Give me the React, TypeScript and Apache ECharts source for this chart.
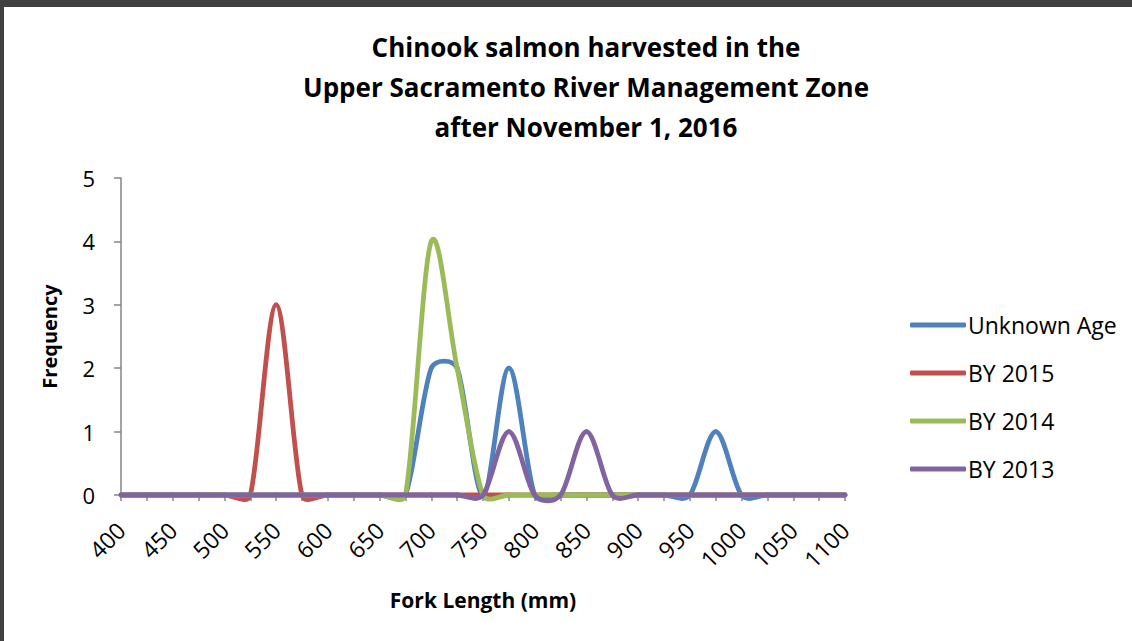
import React, { useEffect, useRef } from "react";
import * as echarts from "echarts";

const categories = [
  "400", "425", "450", "475", "500", "525", "550", "575", "600", "625", "650", "675", "700", "725",
  "750", "775", "800", "825", "850", "875", "900", "925", "950", "975", "1000", "1025", "1050", "1075", "1100",
];
const unknownAge = [0, 0, 0, 0, 0, 0, 0, 0, 0, 0, 0, 0, 2, 2, 0, 2, 0, 0, 0, 0, 0, 0, 0, 1, 0, 0, 0, 0, 0];
const by2015 = [0, 0, 0, 0, 0, 0, 3, 0, 0, 0, 0, 0, 0, 0, 0, 0, 0, 0, 0, 0, 0, 0, 0, 0, 0, 0, 0, 0, 0];
const by2014 = [0, 0, 0, 0, 0, 0, 0, 0, 0, 0, 0, 0, 4, 2, 0, 0, 0, 0, 0, 0, 0, 0, 0, 0, 0, 0, 0, 0, 0];
const by2013 = [0, 0, 0, 0, 0, 0, 0, 0, 0, 0, 0, 0, 0, 0, 0, 1, 0, 0, 1, 0, 0, 0, 0, 0, 0, 0, 0, 0, 0];
const yTicks = [0, 1, 2, 3, 4, 5];

const seriesNames = ["Unknown Age", "BY 2015", "BY 2014", "BY 2013"];
const seriesColors = ["#4F81BD", "#C0504D", "#9BBB59", "#8064A2"];
const seriesData = [unknownAge, by2015, by2014, by2013];

const FONT = "'Open Sans', 'Liberation Sans', sans-serif";
const SMOOTH = 0.45;
const TENSION = 1 / 6;

// control arm vectors at point p (prev a, next b)
function arms(a: number[], p: number[], b: number[]) {
  const vx = b[0] - a[0];
  const vy = b[1] - a[1];
  const l0 = Math.hypot(p[0] - a[0], p[1] - a[1]);
  const l1 = Math.hypot(b[0] - p[0], b[1] - p[1]);
  const r = l0 + l1 > 0 ? l1 / (l0 + l1) : 0.5;
  const outF = Math.min(TENSION, SMOOTH * r);
  const inF = Math.min(TENSION, SMOOTH * (1 - r));
  return { inc: [-vx * inF, -vy * inF], out: [vx * outF, vy * outF] };
}

function makeRenderItem(values: number[], color: string) {
  return (params: any, api: any) => {
    const i = params.dataIndex;
    const n = values.length;
    if (i >= n - 1) return null;
    const pt = (j: number) => {
      const k = Math.max(0, Math.min(n - 1, j));
      return api.coord([k, values[k]]);
    };
    const p0 = pt(i - 1);
    const p1 = pt(i);
    const p2 = pt(i + 1);
    const p3 = pt(i + 2);
    const a1 = arms(p0, p1, p2).out;
    const a2 = arms(p1, p2, p3).inc;
    return {
      type: "bezierCurve",
      shape: {
        x1: p1[0], y1: p1[1], x2: p2[0], y2: p2[1],
        cpx1: p1[0] + a1[0], cpy1: p1[1] + a1[1],
        cpx2: p2[0] + a2[0], cpy2: p2[1] + a2[1],
      },
      style: { stroke: color, lineWidth: 4.8, fill: "none", lineCap: "round" },
    };
  };
}

export default function App() {
  const ref = useRef<HTMLDivElement>(null);
  useEffect(() => {
    document.body.style.margin = "0";
    const chart = echarts.init(ref.current!, null, { renderer: "svg" });
    chart.setOption({
      animation: false,
      backgroundColor: "#ffffff",
      title: {
        text: "Chinook salmon harvested in the\nUpper Sacramento River Management Zone\nafter November 1, 2016",
        left: 581,
        top: 22,
        textAlign: "center",
        textStyle: {
          fontFamily: FONT,
          fontSize: 26,
          fontWeight: "bold",
          lineHeight: 40,
          color: "#000",
        },
      },
      graphic: [
        { type: "rect", left: 0, top: 0, shape: { width: 1132, height: 7 }, style: { fill: "#404040" } },
        { type: "rect", left: 0, top: 0, shape: { width: 4, height: 641 }, style: { fill: "#404040" } },
      ],
      legend: {
        orient: "vertical",
        left: 905,
        top: 306,
        itemWidth: 56,
        itemHeight: 5,
        itemGap: 20,
        icon: "roundRect",
        data: seriesNames.map((name, i) => ({ name, itemStyle: { color: seriesColors[i] } })),
        textStyle: { fontFamily: FONT, fontSize: 23, color: "#000", lineHeight: 28, padding: [0, 0, 0, -3] },
      },
      grid: { left: 121, right: 287, top: 178, bottom: 146, containLabel: false },
      xAxis: {
        type: "category",
        data: categories,
        boundaryGap: false,
        name: "Fork Length (mm)",
        nameLocation: "middle",
        nameGap: 94,
        nameTextStyle: { fontFamily: FONT, fontSize: 21, fontWeight: "bold", color: "#000" },
        axisLine: { lineStyle: { color: "#868686", width: 1.5 } },
        axisTick: { show: true, interval: 0, length: 6, lineStyle: { color: "#868686", width: 1.5 } },
        axisLabel: {
          interval: 1,
          rotate: 45,
          margin: 31,
          fontFamily: FONT,
          fontSize: 23,
          color: "#000",
        },
        splitLine: { show: false },
      },
      yAxis: {
        type: "value",
        min: yTicks[0],
        max: yTicks[yTicks.length - 1],
        interval: 1,
        name: "Frequency",
        nameLocation: "middle",
        nameGap: 62,
        nameTextStyle: { fontFamily: FONT, fontSize: 20, fontWeight: "bold", color: "#000" },
        axisLine: { show: true, lineStyle: { color: "#868686", width: 1.5 } },
        axisTick: { show: true, length: 7, lineStyle: { color: "#868686", width: 1.5 } },
        axisLabel: { margin: 26, fontFamily: FONT, fontSize: 22, color: "#000" },
        splitLine: { show: false },
      },
      series: seriesNames.map((name, i) => ({
        name,
        type: "custom",
        data: seriesData[i].map((v, j) => [j, v]),
        encode: { x: 0, y: 1 },
        itemStyle: { color: seriesColors[i] },
        clip: false,
        renderItem: makeRenderItem(seriesData[i], seriesColors[i]),
      })),
    });
    return () => chart.dispose();
  }, []);
  return <div ref={ref} style={{ width: 1132, height: 641 }} />;
}
